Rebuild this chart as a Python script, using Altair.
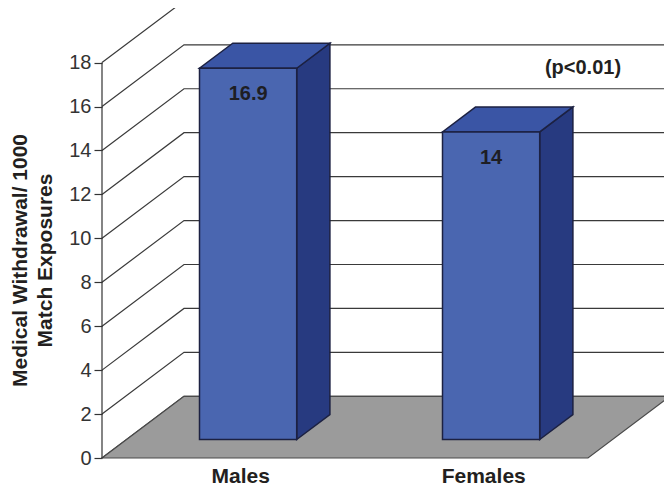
import altair as alt
import pandas as pd

# ---- data ----
categories = ["Males", "Females"]
values = [16.9, 14.0]
value_labels = ["16.9", "14"]
y_ticks = [0, 2, 4, 6, 8, 10, 12, 14, 16, 18]
annotation = ["(p<0.01)"]
axis_title = ["Medical Withdrawal/ 1000", "Match Exposures"]

# ---- layout / projection constants ----
W, H = 562, 450
BAND_PX = 243.0
PX_PER_UNIT = 21.967
DX = 82.0 / BAND_PX          # depth shift in band units
DY = 61.7 / PX_PER_UNIT      # depth shift in value units
X_MAX = W / BAND_PX
Y_MAX = H / PX_PER_UNIT
BAR_W = 0.4
T0, T1 = 0.30, 0.705
LABEL_T = 0.21
FONT = "Arial, Liberation Sans, Helvetica, sans-serif"

FRONT = "#4a66b0"
SIDE = "#273a80"
TOP = "#3a55a5"
EDGE = "#1c2142"
GRID = "#3a3a3a"

xs = alt.Scale(domain=[0, X_MAX], nice=False, zero=False)
ys = alt.Scale(domain=[0, Y_MAX], nice=False, zero=False)
yaxis = alt.Axis(values=y_ticks, tickSize=8, domain=False, grid=False,
                 labelFontSize=20, labelFont=FONT, labelColor="#333333",
                 labelPadding=3, tickColor="#333333", tickWidth=1.2,
                 title=axis_title, titleFont=FONT, titleFontSize=21,
                 titleFontWeight="bold", titleColor="#231f20",
                 titleLineHeight=25, titleAngle=270, titleAlign="center",
                 titleBaseline="alphabetic", titleX=-76, titleY=252)


def X(f):
    return alt.X(f, type="quantitative", scale=xs, axis=None)


def X2(f):
    return alt.X2(f)


def Y(f):
    return alt.Y(f, type="quantitative", scale=ys, axis=yaxis)


# ---- derived tables ----
grid_rows = []
for v in y_ticks:
    grid_rows.append({"g": v, "o": 0, "x": 0.0, "y": v})
    grid_rows.append({"g": v, "o": 1, "x": DX, "y": v + DY})
    grid_rows.append({"g": v, "o": 2, "x": X_MAX + 0.2, "y": v + DY})
grid_df = pd.DataFrame(grid_rows)

n = len(categories)
floor_df = pd.DataFrame([
    {"y": 0.0, "x": 0.0, "x2": float(n)},
    {"y": DY, "x": DX, "x2": n + DX},
])

front_rows, side_rows, top_rows, vlab_rows, clab_rows = [], [], [], [], []
for i, (c, v, lab) in enumerate(zip(categories, values, value_labels)):
    u0 = i + 0.5 - BAR_W / 2
    u1 = i + 0.5 + BAR_W / 2
    front_rows.append({"c": c, "x": u0 + T0 * DX, "x2": u1 + T0 * DX,
                       "y": T0 * DY, "y2": v + T0 * DY})
    side_rows.append({"c": c, "x": u1 + T0 * DX, "y": T0 * DY, "y2": v + T0 * DY})
    side_rows.append({"c": c, "x": u1 + T1 * DX, "y": T1 * DY, "y2": v + T1 * DY})
    top_rows.append({"c": c, "y": v + T0 * DY, "x": u0 + T0 * DX, "x2": u1 + T0 * DX})
    top_rows.append({"c": c, "y": v + T1 * DY, "x": u0 + T1 * DX, "x2": u1 + T1 * DX})
    vlab_rows.append({"x": i + 0.5 + T0 * DX, "y": v + T0 * DY, "t": lab})
    clab_rows.append({"x": i + 0.5 + LABEL_T * DX, "y": 0.0, "t": c})

front_df = pd.DataFrame(front_rows)
side_df = pd.DataFrame(side_rows)
top_df = pd.DataFrame(top_rows)
vlab_df = pd.DataFrame(vlab_rows)
clab_df = pd.DataFrame(clab_rows)
axis_df = pd.DataFrame({"x": [0.0], "y": [0.0], "y2": [float(max(y_ticks))]})

# ---- layers ----
grid = alt.Chart(grid_df).mark_line(color=GRID, strokeWidth=1.2).encode(
    x=X("x"), y=Y("y"), detail="g:N", order="o:Q")

floor = alt.Chart(floor_df).mark_area(
    orient="horizontal", color="#9b9b9b", stroke="#4a4a4a", strokeWidth=1.2
).encode(y=Y("y"), x=X("x"), x2=X2("x2"))

axis_line = alt.Chart(axis_df).mark_rule(color="#333333", strokeWidth=1.2).encode(
    x=X("x"), y=Y("y"), y2=alt.Y2("y2"))

side = alt.Chart(side_df).mark_area(
    color=SIDE, stroke=EDGE, strokeWidth=1.5, strokeJoin="miter"
).encode(x=X("x"), y=Y("y"), y2=alt.Y2("y2"), detail="c:N")

top = alt.Chart(top_df).mark_area(
    orient="horizontal", color=TOP, stroke=EDGE, strokeWidth=1.5, strokeJoin="miter"
).encode(y=Y("y"), x=X("x"), x2=X2("x2"), detail="c:N")

front = alt.Chart(front_df).mark_rect(
    color=FRONT, stroke=EDGE, strokeWidth=1.5
).encode(x=X("x"), x2=X2("x2"), y=Y("y"), y2=alt.Y2("y2"))

vlabels = alt.Chart(vlab_df).mark_text(
    dy=26, baseline="middle", align="center", font=FONT, fontSize=20,
    fontWeight="bold", color="#1e1e24"
).encode(x=X("x"), y=Y("y"), text="t:N")

clabels = alt.Chart(clab_df).mark_text(
    dy=19, baseline="middle", align="center", font=FONT, fontSize=21,
    fontWeight="bold", color="#231f20"
).encode(x=X("x"), y=Y("y"), text="t:N")

note = alt.Chart(pd.DataFrame({"t": annotation})).mark_text(
    baseline="middle", align="center", font=FONT, fontSize=20,
    fontWeight="bold", color="#231f20"
).encode(x=alt.value(481), y=alt.value(60), text="t:N")

chart = alt.layer(
    grid, floor, axis_line, side, top, front, vlabels, clabels, note
).properties(
    width=W, height=H,
    padding={"left": 94, "top": 0, "right": 0, "bottom": 28},
    autosize=alt.AutoSizeParams(type="none"),
    background="white",
).configure_view(stroke=None)

chart.save("out.html", embed_options={"renderer": "svg", "actions": False})
